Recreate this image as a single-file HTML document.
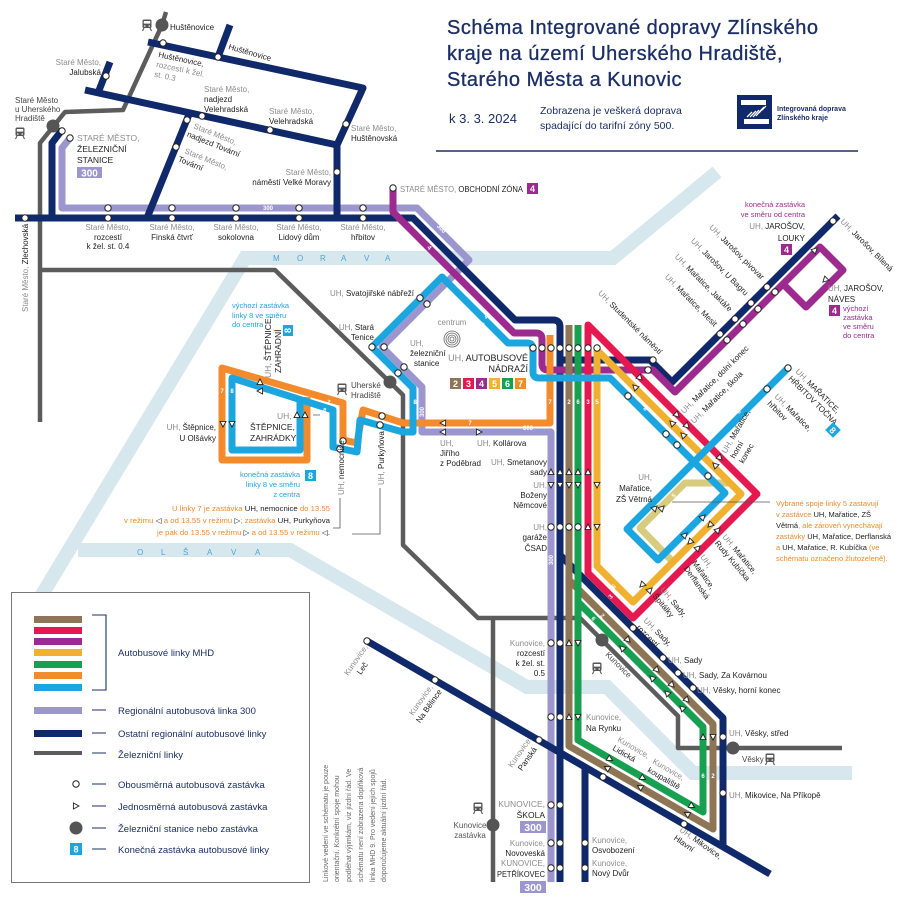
<!DOCTYPE html>
<html><head><meta charset="utf-8">
<style>
html,body{margin:0;padding:0;background:#fff}
svg{display:block}
text{font-family:"Liberation Sans",sans-serif}
.t{font-size:8px;fill:#222}
.g{fill:#8c8c8c}
.m{text-anchor:middle}
.e{text-anchor:end}
.w{font-size:6px;fill:#fff;font-weight:bold;text-anchor:middle}
.ln{fill:none;stroke-linejoin:round;stroke-width:7}
.lg{font-size:9.5px;fill:#1b2f66}
.rv{font-size:8px;fill:#4ea3d3}
.bl{font-size:7.5px;fill:#1ca6e0}
.pu{font-size:7.5px;fill:#9c2a8f}
.or{fill:#f08a2c}
.bd{font-size:9px;fill:#fff;font-weight:bold;text-anchor:middle}
</style></head><body>
<svg width="900" height="906" viewBox="0 0 900 906" xmlns="http://www.w3.org/2000/svg">
<defs>
<circle id="s" r="3.2" fill="#fff" stroke="#222" stroke-width="1"/>
<path id="tr" d="M-2.6,-3 L3,0 L-2.6,3Z" fill="#fff" stroke="#222" stroke-width="0.9"/>
<g id="train"><rect x="-4.5" y="-5.5" width="9" height="8.5" rx="1.5" fill="#555"/><rect x="-3.2" y="-4" width="6.4" height="2.6" fill="#fff"/><circle cx="-2.2" cy="1" r="0.8" fill="#fff"/><circle cx="2.2" cy="1" r="0.8" fill="#fff"/><path d="M-3,3 L-4.5,6 M3,3 L4.5,6" stroke="#555" stroke-width="1.1"/></g>
</defs>

<!-- rivers -->
<path d="M40,598 L245,258 L613,258 L717,172" fill="none" stroke="#d7e7ee" stroke-width="14"/>
<path d="M78,550 L290,550 L527,687 L607,687 L693,773 L852,773" fill="none" stroke="#d7e7ee" stroke-width="14"/>
<g class="rv"><text x="273" y="261">M</text><text x="297" y="261">O</text><text x="320" y="261">R</text><text x="341" y="261">A</text><text x="364" y="261">V</text><text x="385" y="261">A</text>
<text x="137" y="555">O</text><text x="161" y="555">L</text><text x="183" y="555">Š</text><text x="207" y="555">A</text><text x="231" y="555">V</text><text x="255" y="555">A</text></g>

<!-- title -->
<g fill="#1b2f66" style="font-size:20px;letter-spacing:0.5px" stroke="#1b2f66" stroke-width="0.3">
<text x="447" y="34">Schéma Integrované dopravy Zlínského</text>
<text x="447" y="60">kraje na území Uherského Hradiště,</text>
<text x="447" y="86">Starého Města a Kunovic</text>
</g>
<text x="449" y="123" style="font-size:13px;fill:#1b2f66">k 3. 3. 2024</text>
<text x="540" y="114" style="font-size:10.5px;fill:#1b2f66">Zobrazena je veškerá doprava</text>
<text x="540" y="129" style="font-size:10.5px;fill:#1b2f66">spadající do tarifní zóny 500.</text>
<rect x="737" y="95" width="35" height="34" fill="#10296b"/>
<rect x="741" y="100" width="25" height="5" fill="#fff"/>
<rect x="744" y="119" width="25" height="5" fill="#fff"/>
<path d="M747,117 L752,112 M750,117 L756,111 M753,117 L759,110 M756,116 L762,109 M759,113 L764,107 M762,110 L766,106" stroke="#fff" stroke-width="1.3"/>
<text x="777" y="111" style="font-size:7px;font-weight:bold;fill:#1b2f66">Integrovaná doprava</text>
<text x="777" y="120" style="font-size:7px;font-weight:bold;fill:#1b2f66">Zlínského kraje</text>
<line x1="436" y1="151" x2="858" y2="151" stroke="#1b2f66" stroke-width="1.5"/>

<!-- rail -->
<g fill="none" stroke="#5c5c5c" stroke-width="4.5" stroke-linejoin="round">
<path d="M166,12 L162,25 L123,110 L65,112 L40,143 L40,422"/>
<path d="M40,270 L275,270 L403,395 L403,545 L478,618 L580,618 L678,716 L678,748 L842,748"/>
<path d="M493,618 L493,882"/>
</g>

<!-- yellow-green variant -->
<path class="ln" stroke="#d6cb7f" d="M730,483 L685,483 L640,528 L673,562"/>
<!-- lavender 300 -->
<path class="ln" stroke="#9c96cf" d="M70,138 L62,148 L62,208 L417,208 L469,260 L382,347 L422,387 L422,432 L551,432 L551,882"/>
<!-- navy -->
<g class="ln" stroke="#10296b">
<path d="M148,42 L363,88 L337,145 L337,218"/>
<path d="M218,57 L230,25"/>
<path d="M85,90 L337,145"/>
<path d="M98,93 L110,62"/>
<path d="M190,112 L147,218"/>
<path d="M62,130 L52,143 L52,218"/>
<path d="M15,218 L413,218 L515,320 L553,320 Q560,320 560,327 L560,882"/>
<path d="M560,555 L723,718 L723,848"/>
<path d="M560,360 L650,360 L672,382 L838,216"/>
<path d="M367,641 L770,874"/>
<path d="M585,767 L585,882"/>
</g>
<!-- purple 4 -->
<path class="ln" stroke="#9c2a8f" d="M393,188 L393,212 L514,333 L536,333 Q542,333 542,339 L542,364 Q542,370 548,370 L653,370 L675,392 L820,247 L843,270 L806,307 L783,284"/>
<!-- brown 2 -->
<path class="ln" stroke="#8e7555" d="M569,325 L569,746 L713,829 L713,724 L569,580"/>
<!-- green 6 -->
<path class="ln" stroke="#16a04f" d="M578,325 L578,740 L703,812 L703,727 L578,602"/>
<!-- red 3 -->
<path class="ln" stroke="#e5194f" d="M588,325 L588,573 L633,618 L757,494 Z"/>
<!-- yellow 5 -->
<path class="ln" stroke="#efb12f" d="M597,350 L597,566 L633,602 L741,494 Z"/>
<!-- orange 7 -->
<path class="ln" stroke="#f38b2c" d="M307,397 L307,460 L222,460 L222,368 L343,403 L343,440 L357,443 L363,410 L403,423 L550,423 L550,335"/>
<!-- blue 8 -->
<path class="ln" stroke="#1ca6e0" d="M300,400 L300,450 L232,450 L232,378 L333,410 L333,447 L357,452 L360,420 L403,432 L413,432 L413,388 L372,347 L442,277 L508,343 L527,343 Q533,343 533,349 L533,372 Q533,378 539,378 L610,378 L694,462 L788,368"/>
<path class="ln" stroke="#1ca6e0" d="M694,462 L627,529 L658,560 L725,493 Z"/>

<!-- white line labels -->
<g class="w">
<text x="268" y="210">300</text>
<text x="550" y="404">7</text><text x="569" y="404">2</text><text x="578" y="404">6</text><text x="588" y="404">3</text><text x="597" y="404">5</text>
<text x="222" y="393">7</text><text x="232" y="393">8</text>
<text x="415" y="404">8</text>
<text transform="translate(424,412) rotate(-90)">300</text>
<text transform="translate(553,560) rotate(-90)">300</text>
<text x="528" y="430">300</text>
<text x="470" y="425">7</text>
<text transform="translate(428,249) rotate(45)">4</text>
<text transform="translate(440,230) rotate(45)">300</text>
<text transform="translate(485,318) rotate(45)">4</text>
<text transform="translate(481,326) rotate(45)">8</text>
<text transform="translate(328,404) rotate(17)">7</text>
<text transform="translate(324,412) rotate(17)">8</text>
<text transform="translate(644,410) rotate(45)">8</text>
<text transform="translate(662,390) rotate(45)">4</text>
<text transform="translate(612,598) rotate(-45)">3</text>
<text transform="translate(615,588) rotate(-45)">5</text>
<text transform="translate(601,617) rotate(45)">2</text>
<text transform="translate(592,620) rotate(45)">6</text>
<text x="703" y="778">6</text><text x="713" y="778">2</text>
<text transform="translate(740,413) rotate(-45)">8</text>
<text transform="translate(675,497) rotate(-45)">5</text>
</g>

<!-- station circles -->
<g fill="#555"><circle cx="162" cy="25" r="6.5"/><circle cx="53" cy="126" r="6.5"/><circle cx="390" cy="382" r="6.5"/><circle cx="602" cy="640" r="6.5"/><circle cx="733" cy="748" r="6.5"/><circle cx="493" cy="825" r="6.5"/></g>
<use href="#train" x="147" y="25"/><use href="#train" x="20" y="133"/><use href="#train" x="342" y="389"/><use href="#train" x="478" y="808"/><use href="#train" x="597" y="668"/><use href="#train" x="770" y="759"/>

<!-- stops -->
<g>
<use href="#s" x="163" y="43"/><use href="#s" x="218" y="57"/><use href="#s" x="106" y="76"/><use href="#s" x="202" y="116"/><use href="#s" x="270" y="130"/><use href="#s" x="346" y="124"/><use href="#s" x="187" y="120"/><use href="#s" x="176" y="147"/><use href="#s" x="337" y="172"/><use href="#s" x="62" y="131"/><use href="#s" x="70" y="138"/><use href="#s" x="25" y="218"/>
<use href="#s" x="108" y="208"/><use href="#s" x="172" y="208"/><use href="#s" x="236" y="208"/><use href="#s" x="299" y="208"/><use href="#s" x="363" y="208"/>
<use href="#s" x="108" y="218"/><use href="#s" x="172" y="218"/><use href="#s" x="236" y="218"/><use href="#s" x="299" y="218"/><use href="#s" x="363" y="218"/><use href="#s" x="393" y="188"/>
<use href="#s" x="420" y="298"/><use href="#s" x="427" y="304"/><use href="#s" x="372" y="347"/><use href="#s" x="384" y="347"/><use href="#s" x="404" y="367"/><use href="#s" x="398" y="373"/><use href="#s" x="343" y="441"/><use href="#s" x="340" y="449"/><use href="#s" x="382" y="416"/><use href="#s" x="380" y="425"/>
<use href="#s" x="533" y="348"/><use href="#s" x="542" y="348"/><use href="#s" x="551" y="348"/><use href="#s" x="560" y="348"/><use href="#s" x="569" y="348"/><use href="#s" x="578" y="348"/><use href="#s" x="588" y="348"/><use href="#s" x="597" y="348"/>
<use href="#s" x="551" y="527"/><use href="#s" x="560" y="527"/><use href="#s" x="569" y="527"/><use href="#s" x="578" y="527"/>
<use href="#s" x="653" y="360"/><use href="#s" x="648" y="370"/>
<use href="#s" x="720" y="334"/><use href="#s" x="735" y="319"/><use href="#s" x="751" y="303"/><use href="#s" x="767" y="287"/><use href="#s" x="833" y="221"/>
<use href="#s" x="727" y="340"/><use href="#s" x="743" y="324"/><use href="#s" x="758" y="309"/><use href="#s" x="775" y="292"/>
<use href="#s" x="628" y="396"/><use href="#s" x="666" y="434"/><use href="#s" x="677" y="445"/><use href="#s" x="708" y="476"/><use href="#s" x="767" y="389"/><use href="#s" x="788" y="368"/>
<use href="#s" x="633" y="628"/><use href="#s" x="663" y="658"/><use href="#s" x="678" y="673"/><use href="#s" x="693" y="688"/><use href="#s" x="723" y="737"/><use href="#s" x="723" y="793"/>
<use href="#s" x="367" y="641"/><use href="#s" x="435" y="680"/><use href="#s" x="539" y="740"/><use href="#s" x="603" y="777"/><use href="#s" x="684" y="824"/>
<use href="#s" x="585" y="843"/><use href="#s" x="585" y="868"/>
<use href="#s" x="551" y="643"/><use href="#s" x="560" y="643"/><use href="#s" x="551" y="717"/><use href="#s" x="560" y="717"/><use href="#s" x="551" y="805"/><use href="#s" x="560" y="805"/><use href="#s" x="551" y="843"/><use href="#s" x="560" y="843"/><use href="#s" x="551" y="868"/><use href="#s" x="560" y="868"/>
</g>
<!-- triangles -->
<g>
<use href="#tr" transform="translate(551,472) rotate(-90)"/><use href="#tr" transform="translate(560,472) rotate(-90)"/><use href="#tr" transform="translate(569,472) rotate(-90)"/><use href="#tr" transform="translate(578,472) rotate(-90)"/><use href="#tr" transform="translate(588,472) rotate(-90)"/>
<use href="#tr" transform="translate(551,485) rotate(90)"/><use href="#tr" transform="translate(560,485) rotate(90)"/><use href="#tr" transform="translate(569,485) rotate(90)"/><use href="#tr" transform="translate(578,485) rotate(90)"/><use href="#tr" transform="translate(597,485) rotate(90)"/>
<use href="#tr" transform="translate(588,527) rotate(-90)"/><use href="#tr" transform="translate(597,527) rotate(90)"/>
<use href="#tr" transform="translate(569,643) rotate(-90)"/><use href="#tr" transform="translate(578,643) rotate(90)"/>
<use href="#tr" transform="translate(569,717) rotate(-90)"/><use href="#tr" transform="translate(578,717) rotate(90)"/>
<use href="#tr" transform="translate(703,737) rotate(-90)"/><use href="#tr" transform="translate(713,737) rotate(90)"/>
<use href="#tr" transform="translate(260,382) rotate(-90)"/><use href="#tr" transform="translate(260,391) rotate(180)"/>
<use href="#tr" transform="translate(297,415) rotate(-90)"/><use href="#tr" transform="translate(305,415) rotate(-90)"/>
<use href="#tr" transform="translate(223,424) rotate(90)"/><use href="#tr" transform="translate(232,424) rotate(90)"/>
<use href="#tr" transform="translate(443,423) rotate(180)"/><use href="#tr" transform="translate(443,432) rotate(180)"/><use href="#tr" transform="translate(479,432)"/>
<use href="#tr" transform="translate(640,378) rotate(45)"/><use href="#tr" transform="translate(635,387) rotate(225)"/>
<use href="#tr" transform="translate(677,415) rotate(45)"/><use href="#tr" transform="translate(672,423) rotate(225)"/><use href="#tr" transform="translate(687,426) rotate(45)"/><use href="#tr" transform="translate(683,435) rotate(225)"/>
<use href="#tr" transform="translate(720,458) rotate(45)"/><use href="#tr" transform="translate(715,465) rotate(225)"/>
<use href="#tr" transform="translate(703,517) rotate(-45)"/><use href="#tr" transform="translate(710,525) rotate(135)"/><use href="#tr" transform="translate(718,530) rotate(-45)"/>
<use href="#tr" transform="translate(685,535) rotate(-45)"/><use href="#tr" transform="translate(690,542) rotate(135)"/><use href="#tr" transform="translate(698,548) rotate(-45)"/>
<use href="#tr" transform="translate(642,585) rotate(135)"/><use href="#tr" transform="translate(650,590) rotate(-45)"/>
<use href="#tr" transform="translate(655,508) rotate(-45)"/><use href="#tr" transform="translate(662,508) rotate(-45)"/>
<use href="#tr" transform="translate(628,640) rotate(45)"/><use href="#tr" transform="translate(622,648) rotate(225)"/><use href="#tr" transform="translate(657,670) rotate(45)"/><use href="#tr" transform="translate(652,678) rotate(225)"/><use href="#tr" transform="translate(672,685) rotate(45)"/><use href="#tr" transform="translate(667,693) rotate(225)"/><use href="#tr" transform="translate(687,700) rotate(45)"/><use href="#tr" transform="translate(682,708) rotate(225)"/>
<use href="#tr" transform="translate(610,759) rotate(30)"/><use href="#tr" transform="translate(607,768) rotate(210)"/><use href="#tr" transform="translate(643,778) rotate(30)"/><use href="#tr" transform="translate(640,787) rotate(210)"/><use href="#tr" transform="translate(692,806) rotate(30)"/><use href="#tr" transform="translate(687,814) rotate(210)"/>
<use href="#tr" transform="translate(815,250) rotate(-45)"/><use href="#tr" transform="translate(825,280) rotate(135)"/>
</g>

<!-- top-left labels -->
<g class="t">
<text x="170" y="30">Huštěnovice</text>
<text transform="translate(228,49) rotate(16)">Huštěnovice</text>
<g transform="translate(158,57) rotate(12)"><text>Huštěnovice,</text><text class="g" y="10">rozcestí k žel.</text><text class="g" y="20">st. 0.3</text></g>
<text class="e" x="101" y="65"><tspan class="g">Staré Město,</tspan></text><text class="e" x="101" y="75">Jalubská</text>
<text x="204" y="92" class="g">Staré Město,</text><text x="204" y="102">nadjezd</text><text x="204" y="112">Velehradská</text>
<text x="269" y="114" class="g">Staré Město,</text><text x="269" y="124">Velehradská</text>
<text x="351" y="131" class="g">Staré Město,</text><text x="351" y="141">Huštěnovská</text>
<g transform="translate(193,128) rotate(22)"><text class="g">Staré Město,</text><text x="-3" y="10">nadjezd Tovární</text></g>
<g transform="translate(184,153) rotate(22)"><text class="g">Staré Město,</text><text x="-3" y="10">Tovární</text></g>
<text class="e g" x="331" y="175">Staré Město,</text><text class="e" x="331" y="185">náměstí Velké Moravy</text>
<text x="15" y="103" style="fill:#444">Staré Město</text><text x="15" y="112" style="fill:#444">u Uherského</text><text x="15" y="121" style="fill:#444">Hradiště</text>
<text x="77" y="141" style="font-size:8.5px" class="g">STARÉ MĚSTO,</text><text x="77" y="152" style="font-size:8.5px">ŽELEZNIČNÍ</text><text x="77" y="163" style="font-size:8.5px">STANICE</text>
<text transform="translate(28,312) rotate(-90)"><tspan class="g">Staré Město, </tspan>Zlechovská</text>
<text x="400" y="192" style="font-size:8px" textLength="123" lengthAdjust="spacingAndGlyphs"><tspan class="g">STARÉ MĚSTO, </tspan>OBCHODNÍ ZÓNA</text>
<g class="m">
<text x="108" y="230" class="g">Staré Město,</text><text x="108" y="240">rozcestí</text><text x="108" y="249">k žel. st. 0.4</text>
<text x="172" y="230" class="g">Staré Město,</text><text x="172" y="240">Finská čtvrť</text>
<text x="236" y="230" class="g">Staré Město,</text><text x="236" y="240">sokolovna</text>
<text x="299" y="230" class="g">Staré Město,</text><text x="299" y="240">Lidový dům</text>
<text x="363" y="230" class="g">Staré Město,</text><text x="363" y="240">hřbitov</text>
</g>
</g>
<rect x="77" y="167" width="25" height="11" fill="#9c96cf"/><text class="bd" x="89.5" y="176.5" style="font-size:10px">300</text>
<rect x="527" y="183" width="11" height="11" fill="#9c2a8f"/><text class="bd" x="532.5" y="192">4</text>

<!-- center labels -->
<g class="t">
<text class="e" x="414" y="296"><tspan class="g">UH, </tspan>Svatojiřské nábřeží</text>
<text class="e" x="374" y="330"><tspan class="g">UH, </tspan>Stará</text><text class="e" x="374" y="340">Tenice</text>
<text x="410" y="346" class="g">UH,</text><text x="410" y="356">železniční</text><text x="414" y="366">stanice</text>
<text class="m g" x="452" y="325">centrum</text>
<text class="e" x="528" y="361" style="font-size:9px"><tspan class="g">UH, </tspan>AUTOBUSOVÉ</text><text class="e" x="528" y="372" style="font-size:9px">NÁDRAŽÍ</text>
<text x="351" y="388" style="fill:#444">Uherské</text><text x="351" y="398" style="fill:#444">Hradiště</text>
<text transform="translate(271,378) rotate(-90)" style="font-size:8.5px"><tspan class="g">UH, </tspan>ŠTĚPNICE,</text>
<text transform="translate(281,373) rotate(-90)" style="font-size:8.5px">ZAHRADNÍ</text>
<text x="277" y="419" class="g" style="font-size:8.5px">UH,</text><text x="250" y="430" style="font-size:8.5px">ŠTĚPNICE,</text><text x="250" y="441" style="font-size:8.5px">ZAHRÁDKY</text>
<text class="e" x="216" y="430"><tspan class="g">UH, </tspan>Štěpnice,</text><text class="e" x="216" y="441">U Olšávky</text>
<text transform="translate(344,495) rotate(-90)"><tspan class="g">UH, </tspan>nemocnice</text>
<text transform="translate(384,485) rotate(-90)"><tspan class="g">UH, </tspan>Purkyňova</text>
<text x="440" y="446" class="g">UH,</text><text x="440" y="456">Jiřího</text><text x="440" y="466">z Poděbrad</text>
<text x="477" y="446"><tspan class="g">UH, </tspan>Kollárova</text>
<text class="e" x="547" y="465"><tspan class="g">UH, </tspan>Smetanovy</text><text class="e" x="547" y="475">sady</text>
<text class="e g" x="547" y="488">UH,</text><text class="e" x="547" y="498">Boženy</text><text class="e" x="547" y="508">Němcové</text>
<text class="e g" x="547" y="530">UH,</text><text class="e" x="547" y="540">garáže</text><text class="e" x="547" y="551">ČSAD</text>
</g>
<g fill="none" stroke="#666" stroke-width="0.8"><circle cx="452" cy="339" r="2"/><circle cx="452" cy="339" r="4"/><circle cx="452" cy="339" r="6"/><circle cx="452" cy="339" r="8"/></g>
<g>
<rect x="450" y="378" width="11" height="11" fill="#8e7555"/><rect x="463" y="378" width="11" height="11" fill="#e5194f"/><rect x="476" y="378" width="11" height="11" fill="#9c2a8f"/><rect x="489" y="378" width="11" height="11" fill="#efb12f"/><rect x="502" y="378" width="11" height="11" fill="#16a04f"/><rect x="515" y="378" width="11" height="11" fill="#f38b2c"/>
<text class="bd" x="455.5" y="387">2</text><text class="bd" x="468.5" y="387">3</text><text class="bd" x="481.5" y="387">4</text><text class="bd" x="494.5" y="387">5</text><text class="bd" x="507.5" y="387">6</text><text class="bd" x="520.5" y="387">7</text>
</g>
<text class="bl" x="232" y="308">výchozí zastávka</text><text class="bl" x="232" y="318">linky 8 ve směru</text><text class="bl" x="232" y="327">do centra</text>
<rect x="283" y="325" width="10" height="11" fill="#1ca6e0"/><text class="bd" transform="translate(291,330.5) rotate(-90)">8</text>
<text class="bl e" x="300" y="477">konečná zastávka</text><text class="bl e" x="300" y="487">linky 8 ve směru</text><text class="bl e" x="300" y="497">z centra</text>
<rect x="305" y="470" width="11" height="11" fill="#1ca6e0"/><text class="bd" x="310.5" y="479">8</text>
<g style="font-size:7.5px" fill="#222">
<text x="172" y="511" textLength="158" lengthAdjust="spacingAndGlyphs"><tspan class="or">U linky 7 je zastávka </tspan>UH, nemocnice<tspan class="or"> do 13.55</tspan></text>
<text x="124" y="523" textLength="206" lengthAdjust="spacingAndGlyphs"><tspan class="or">v režimu </tspan>◁<tspan class="or"> a od 13.55 v režimu </tspan>▷<tspan class="or">; zastávka </tspan>UH, Purkyňova</text>
<text x="157" y="535" textLength="173" lengthAdjust="spacingAndGlyphs"><tspan class="or">je pak do 13.55 v režimu </tspan>▷<tspan class="or"> a od 13.55 v režimu </tspan>◁.</text>
</g>
<path d="M340,498 L340,528 L333,528 M380,488 L380,534 L352,534 M313,415 L320,415" fill="none" stroke="#555" stroke-width="0.8"/>

<!-- right labels -->
<g class="t">
<text class="e" transform="translate(659,355) rotate(45)"><tspan class="g">UH, </tspan>Studentské náměstí</text>
<text class="e" transform="translate(714,327) rotate(45)"><tspan class="g">UH, </tspan>Mařatice, Mesit</text>
<text class="e" transform="translate(729,312) rotate(45)"><tspan class="g">UH, </tspan>Mařatice, Jaktáře</text>
<text class="e" transform="translate(745,296) rotate(45)"><tspan class="g">UH, </tspan>Jarošov, U Bagru</text>
<text class="e" transform="translate(761,280) rotate(45)"><tspan class="g">UH, </tspan>Jarošov, pivovar</text>
<text transform="translate(840,222) rotate(45)"><tspan class="g">UH, </tspan>Jarošov, Bílená</text>
<text class="e" x="805" y="229"><tspan class="g">UH, </tspan>JAROŠOV,</text><text class="e" x="805" y="241">LOUKY</text>
<text x="828" y="291"><tspan class="g">UH, </tspan>JAROŠOV,</text><text x="828" y="302">NÁVES</text>
<text transform="translate(684,414) rotate(-45)"><tspan class="g">UH, </tspan>Mařatice, dolní konec</text>
<text transform="translate(694,424) rotate(-45)"><tspan class="g">UH, </tspan>Mařatice, škola</text>
<g transform="translate(795,372) rotate(45)"><text><tspan class="g">UH, </tspan>MAŘATICE,</text><text y="10">HŘBITOV TOČNA</text></g>
<g transform="translate(774,397) rotate(45)"><text><tspan class="g">UH, </tspan>Mařatice,</text><text y="10">hřbitov</text></g>
<g transform="translate(726,454) rotate(-60)"><text><tspan class="g">UH, </tspan>Mařatice,</text><text y="10">horní</text><text y="20">konec</text></g>
<text class="e g" x="652" y="480">UH,</text><text class="e" x="652" y="491">Mařatice,</text><text class="e" x="652" y="502">ZŠ Větrná</text>
<g transform="translate(722,537) rotate(50)"><text><tspan class="g">UH, </tspan>Mařatice,</text><text y="10">Rudy Kubíčka</text></g>
<g transform="translate(700,557) rotate(55)"><text class="g">UH,</text><text y="10">Mařatice,</text><text y="20">Derflanská</text></g>
<g transform="translate(660,590) rotate(50)"><text><tspan class="g">UH, </tspan>Sady,</text><text y="10">Špitálky</text></g>
<g transform="translate(643,621) rotate(45)"><text><tspan class="g">UH, </tspan>Sady,</text><text y="10">rozcestí</text></g>
<text x="668" y="663"><tspan class="g">UH, </tspan>Sady</text>
<text x="683" y="678"><tspan class="g">UH, </tspan>Sady, Za Kovárnou</text>
<text x="697" y="693"><tspan class="g">UH, </tspan>Věsky, horní konec</text>
<text x="729" y="736"><tspan class="g">UH, </tspan>Věsky, střed</text>
<text x="742" y="762" style="fill:#444">Věsky</text>
<text x="729" y="798"><tspan class="g">UH, </tspan>Mikovice, Na Příkopě</text>
<g transform="translate(679,831) rotate(35)"><text><tspan class="g">UH, </tspan>Mikovice,</text><text y="10">Hlavní</text></g>
<g transform="translate(617,741) rotate(30)"><text class="g">Kunovice,</text><text y="10">Lidická</text></g>
<g transform="translate(652,763) rotate(30)"><text class="g">Kunovice,</text><text y="10">koupaliště</text></g>
<text x="586" y="720" class="g">Kunovice,</text><text x="586" y="731">Na Rynku</text>
<text transform="translate(605,655) rotate(45)" style="fill:#444">Kunovice</text>
<text x="592" y="843" class="g">Kunovice,</text><text x="592" y="853">Osvobození</text>
<text x="592" y="866" class="g">Kunovice,</text><text x="592" y="876">Nový Dvůr</text>
<text class="e g" x="545" y="646">Kunovice,</text><text class="e" x="545" y="656">rozcestí</text><text class="e" x="545" y="666">k žel. st.</text><text class="e" x="545" y="676">0.5</text>
<g transform="translate(348,676) rotate(-55)"><text class="g">Kunovice,</text><text x="8" y="10">Leč</text></g>
<g transform="translate(413,716) rotate(-55)"><text class="g">Kunovice,</text><text x="-2" y="10">Na Bělince</text></g>
<g transform="translate(512,768) rotate(-55)"><text class="g">Kunovice,</text><text x="3" y="10">Panská</text></g>
<text class="e g" x="545" y="807" style="font-size:8.5px">KUNOVICE,</text><text class="e" x="545" y="818" style="font-size:8.5px">ŠKOLA</text>
<text class="m" x="470" y="828" style="fill:#555">Kunovice</text><text class="m" x="470" y="838" style="fill:#555">zastávka</text>
<text class="e g" x="545" y="846">Kunovice,</text><text class="e" x="545" y="856">Novoveská</text>
<text class="g" x="501" y="866" style="font-size:8px" textLength="44" lengthAdjust="spacingAndGlyphs">KUNOVICE,</text><text x="497" y="877" style="font-size:8px" textLength="48" lengthAdjust="spacingAndGlyphs">PETŘÍKOVEC</text>
</g>
<g class="pu"><text class="e" x="805" y="207">konečná zastávka</text><text class="e" x="805" y="217">ve směru od centra</text>
<text x="843" y="311">výchozí</text><text x="843" y="320">zastávka</text><text x="843" y="329">ve směru</text><text x="843" y="338">do centra</text></g>
<rect x="781" y="244" width="11" height="11" fill="#9c2a8f"/><text class="bd" x="786.5" y="253">4</text>
<rect x="829" y="305" width="11" height="11" fill="#9c2a8f"/><text class="bd" x="834.5" y="314">4</text>
<g transform="translate(833,430) rotate(45)"><rect x="-5.5" y="-5.5" width="11" height="11" fill="#1ca6e0"/><text class="bd" y="3.5">8</text></g>
<rect x="520" y="821" width="26" height="12" fill="#9c96cf"/><text class="bd" x="533" y="831" style="font-size:10.5px">300</text>
<rect x="520" y="881" width="26" height="12" fill="#9c96cf"/><text class="bd" x="533" y="891" style="font-size:10.5px">300</text>
<line x1="672" y1="502" x2="770" y2="502" stroke="#555" stroke-width="0.8"/>
<g style="font-size:7.5px" fill="#222">
<text x="776" y="506"><tspan class="or">Vybrané spoje linky 5 zastavují</tspan></text>
<text x="776" y="517"><tspan class="or">v zastávce </tspan>UH, Mařatice, ZŠ</text>
<text x="776" y="528">Větrná<tspan class="or">, ale zároveň vynechávají</tspan></text>
<text x="776" y="539"><tspan class="or">zastávky </tspan>UH, Mařatice, Derflanská</text>
<text x="776" y="550"><tspan class="or">a </tspan>UH, Mařatice, R. Kubíčka<tspan class="or"> (ve</tspan></text>
<text x="776" y="561"><tspan class="or">schématu označeno žlutozeleně).</tspan></text>
</g>

<!-- vertical note -->
<g style="font-size:7px;fill:#666">
<text transform="translate(328,882) rotate(-90)">Linkové vedení ve schématu je pouze</text>
<text transform="translate(339,882) rotate(-90)">orientační. Konkrétní spoje mohou</text>
<text transform="translate(351,882) rotate(-90)">podléhat výjimkám, viz jízdní řád. Ve</text>
<text transform="translate(363,882) rotate(-90)">schématu není zobrazena doplňková</text>
<text transform="translate(375,882) rotate(-90)">linka MHD 9. Pro vedení jejích spojů</text>
<text transform="translate(386,882) rotate(-90)">doporučujeme aktuální jízdní řád.</text>
</g>

<!-- legend -->
<rect x="11.5" y="592.5" width="298" height="290" fill="#fff" stroke="#777" stroke-width="1"/>
<rect x="34" y="616" width="48" height="7" fill="#8e7555"/>
<rect x="34" y="627" width="48" height="7" fill="#e5194f"/>
<rect x="34" y="638" width="48" height="7" fill="#9c2a8f"/>
<rect x="34" y="649" width="48" height="7" fill="#efb12f"/>
<rect x="34" y="661" width="48" height="7" fill="#16a04f"/>
<rect x="34" y="672" width="48" height="7" fill="#f38b2c"/>
<rect x="34" y="684" width="48" height="7" fill="#1ca6e0"/>
<rect x="34" y="707" width="48" height="7" fill="#9c96cf"/>
<rect x="34" y="730" width="48" height="7" fill="#10296b"/>
<rect x="34" y="751" width="48" height="4" fill="#5c5c5c"/>
<path d="M92,615 L106,615 L106,690 L92,690 M92,710 L106,710 M92,733 L106,733 M92,753 L106,753 M92,784 L106,784 M92,806 L106,806 M92,828 L106,828 M92,849 L106,849" fill="none" stroke="#1b2f66" stroke-width="1.1"/>
<g class="lg">
<text x="118" y="656">Autobusové linky MHD</text>
<text x="118" y="714">Regionální autobusová linka 300</text>
<text x="118" y="737">Ostatní regionální autobusové linky</text>
<text x="118" y="758">Železniční linky</text>
<text x="118" y="788">Obousměrná autobusová zastávka</text>
<text x="118" y="810">Jednosměrná autobusová zastávka</text>
<text x="118" y="832">Železniční stanice nebo zastávka</text>
<text x="118" y="853">Konečná zastávka autobusové linky</text>
</g>
<use href="#s" x="76" y="784"/>
<use href="#tr" transform="translate(76,806)"/>
<circle cx="76" cy="828" r="6.5" fill="#555"/>
<rect x="70" y="843" width="12" height="12" fill="#1ca6e0"/><text class="bd" x="76" y="852.5">8</text>
</svg>
</body></html>
